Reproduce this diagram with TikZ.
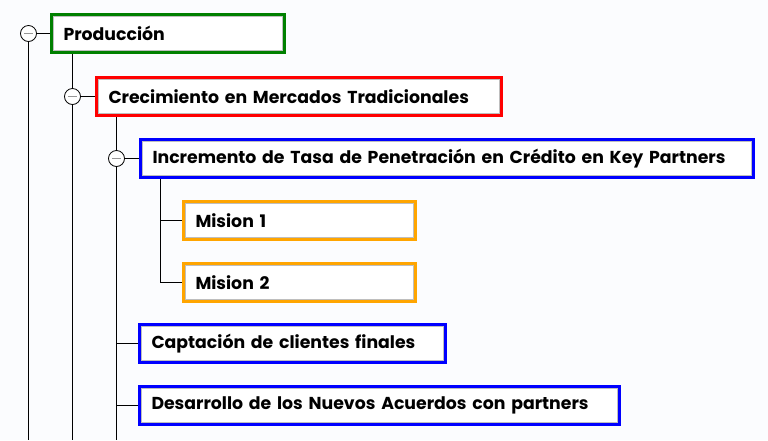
\documentclass[tikz,border=0pt]{standalone}
\usepackage{fontspec}
\setmainfont{Poppins}[BoldFont={Poppins Bold}]
\usepackage{tikz}
\usetikzlibrary{positioning,calc}
\definecolor{bgcol}{RGB}{251,252,254}
\definecolor{prodgreen}{RGB}{0,128,0}
\definecolor{crecred}{RGB}{255,0,0}
\definecolor{objblue}{RGB}{0,0,255}
\definecolor{misorange}{RGB}{255,165,0}
\definecolor{insetgray}{RGB}{190,190,190}
\definecolor{minusgray}{RGB}{150,150,150}

\begin{document}
\begin{tikzpicture}[
            x=1pt, y=-1pt,
            font=\fontsize{17.3}{20}\selectfont\bfseries,
            line width=1pt,
                box/.style = {rectangle, draw=#1, line width=3pt, fill=white,
                              anchor=north west, inner xsep=12pt, inner ysep=0pt,
                              minimum height=38pt, align=left,
                              path picture={\draw[insetgray, line width=1.2pt]
                                ([shift={(1.5pt,1.5pt)}]path picture bounding box.south west) rectangle
                                ([shift={(-1.5pt,-1.5pt)}]path picture bounding box.north east);}},
                toggle/.style = {circle, draw, fill=white, line width=0.8pt,
                              minimum size=16pt, inner sep=0pt,% collapse buttons
                              path picture={\draw[minusgray, line width=1.6pt]
                                ([xshift=-4.5pt]path picture bounding box.center) --
                                ([xshift=4.5pt]path picture bounding box.center);}},
                ]
            \useasboundingbox[fill=bgcol] (0,0) rectangle (768,440);
            \coordinate (end) at (0,440);
            % level boxes
            \node[box=prodgreen, text width=209pt] (prod) at (50,13) {Producción};
            \node[box=crecred, text width=381pt] (crec) at (95,76) {Crecimiento en Mercados Tradicionales};
            \node[box=objblue, text width=589pt] (incr) at (139,138) {Incremento de Tasa de Penetración en Crédito en Key Partners};
            \foreach \i/\y in {1/200,2/262}
                \node[box=misorange, text width=208pt] (mis\i) at (182,\y) {Mision \i};
            \node[box=objblue, text width=282pt] (capt) at (138,323) {Captación de clientes finales};
            \node[box=objblue, text width=456pt] (desa) at (138,385) {Desarrollo de los Nuevos Acuerdos con partners};
            % buttons
            \node[toggle] (t1) at (28.5,33.5) {};
            \node[toggle] (t2) at (72.5,96.5) {};
            \node[toggle] (t3) at (116.5,158.5) {};
            % tree lines
            \draw (t1) -- (prod);
            \draw (t1) -- (t1 |- end);
            \draw (prod.south -| t2) -- (t2);
            \draw (t2) -- (crec);
            \draw (t2) -- (t2 |- end);
            \draw (crec.south -| t3) -- (t3);
            \draw (t3) -- (incr);
            \draw (t3) -- (t3 |- end);
            \foreach \i in {1,2}
                \draw ([xshift=21pt]incr.south west) |- (mis\i.west);
            \draw (t3 |- capt.west) -- (capt.west);
            \draw (t3 |- desa.west) -- (desa.west);
\end{tikzpicture}
\end{document}
